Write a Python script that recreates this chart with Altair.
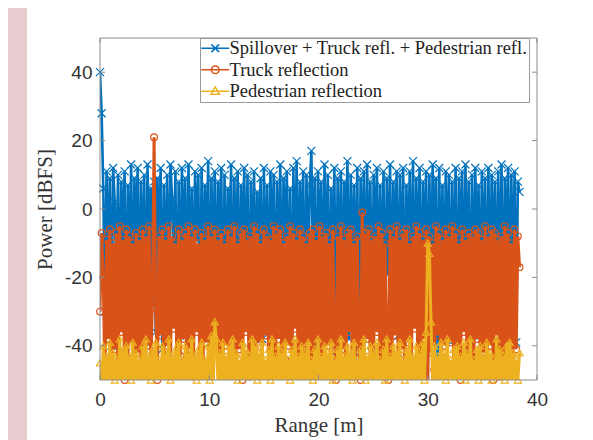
import altair as alt
import pandas as pd

# ---------------- data ----------------
x_step = 0.15  # sampling grid of the range axis [m]
series_names = [
    "Spillover + Truck refl. + Pedestrian refl.",
    "Truck reflection",
    "Pedestrian reflection",
]
colors = ["#0072BD", "#D95319", "#EDB120"]

spill = [40, 28, 6, -30, 11, -18, 9, -40, 12, 2, -25, 10, -35, 8, -12, 11, -42, 7, -20, 13,
         -33, 9, -8, 12, -38, 8, -22, 10, -45, 13, -15, 6, -28, 8, -36, 9, -10, 12, -41, 7,
         -24, 10, -31, 13, 3, -19, 11, -44, 8, -27, 12, -14, 9, -37, 13, -21, 6, -32, 11, -9,
         10, -43, 12, -26, 7, -17, 14, -39, 9, -23, 11, -34, 8, -11, 12, -46, 10, -29, 6, -16,
         13, -40, 9, -22, 11, -35, 7, -13, 12, -30, 10, -44, 8, -19, 11, -27, 5, -12, 9, -38,
         12, -25, 7, -33, 11, -15, 10, -42, 8, -20, 13, -36, 9, -10, 11, -31, 6, -45, 12, -23,
         14, -28, 8, -14, 11, -39, 10, -18, 7, 17, -26, 9, -41, 11, -12, 8, -30, 13, -21, 10,
         -37, 6, -16, 12, -43, 9, -24, 11, -32, 8, -11, 14, -38, 10, -20, 7, -29, 12, -45, 9,
         -17, 11, -35, 13, -22, 8, -40, 10, -13, 12, -31, 7, -26, 11, -42, 9, -19, 13, -34, 8,
         -15, 11, -37, 10, -24, 12, -44, 7, -18, 11, -29, 14, -33, 9, -21, 12, -40, 8, -14, 11,
         -36, 10, -27, 13, -11, 9, -43, 12, -23, 7, -30, 11, -17, 10, -39, 8, -25, 12, -46, 9,
         -13, 11, -34, 13, -20, 8, -41, 10, -28, 12, -15, 7, -37, 11, -22, 9, -44, 12, -31, 10,
         -18, 8, -35, 11, -26, 13, -42, 9, -12, 12, -33, 10, -21, 11, -39, 8, 5]

truck = [-30, -7, -20, -52, -9, -38, -6, -48, -10, -41, -7, -55, -5, -36, -9, -50, -6, -44, -8, -39,
         -10, -53, -7, -42, -9, -46, -6, -51, -8, -40, -5, -47, -27, 21, -29, -50, -8, -37, -6, -54,
         -9, -40, -5, -47, -8, -35, -10, -51, -6, -43, -9, -38, -7, -56, -5, -41, -8, -49, -6, -36,
         -10, -52, -7, -45, -9, -39, -5, -53, -8, -42, -6, -37, -9, -55, -7, -44, -10, -40, -6, -54,
         -8, -38, -5, -47, -10, -41, -7, -50, -6, -36, -9, -49, -8, -43, -5, -52, -7, -39, -10, -46,
         -6, -37, -8, -53, -9, -42, -5, -48, -7, -38, -6, -51, -10, -44, -8, -40, -5, -55, -7, -35,
         -9, -54, -6, -41, -8, -47, -10, -39, -7, -52, -6, -45, -9, -38, -5, -56, -8, -43, -7, -40,
         -10, -53, -6, -37, -50, -8, -48, -5, -41, -9, -55, -7, -36, -6, -49, -10, -44, -8, -39, -50,
         -1, -45, -7, -38, -6, -52, -9, -42, -8, -36, -5, -55, -7, -43, -10, -40, -50, -6, -53, -8,
         -37, -5, -48, -9, -41, -7, -56, -6, -39, -10, -46, -8, -35, -5, -51, -7, -44, -9, -38, -6,
         -54, -8, -42, -10, -47, -5, -37, -7, -52, -9, -40, -6, -45, -8, -39, -5, -55, -7, -43, -10,
         -50, -6, -36, -9, -48, -7, -41, -8, -53, -6, -38, -7, -46, -9, -42, -5, -54, -8, -40, -6,
         -50, -7, -37, -9, -49, -8, -43, -5, -52, -7, -39, -10, -45, -6, -41, -8, -17]

ped = [-45, -52, -40, -55, -43, -51, -39, -58, -42, -50, -44, -53, -38, -56, -41, -52, -40, -54, -43, -50,
       -39, -57, -42, -51, -44, -55, -40, -52, -38, -58, -43, -50, -41, -54, -39, -51, -44, -56, -40, -52,
       -42, -55, -38, -50, -43, -57, -41, -53, -39, -51, -44, -54, -40, -56, -42, -52, -38, -55, -43, -50,
       -41, -57, -39, -52, -44, -53, -40, -50, -37, -55, -33, -38, -51, -42, -56, -39, -52, -43, -51, -40,
       -57, -38, -53, -42, -50, -44, -55, -39, -52, -41, -58, -43, -51, -38, -54, -40, -50, -42, -56, -39,
       -52, -44, -53, -41, -50, -38, -57, -43, -51, -40, -55, -42, -52, -39, -54, -44, -50, -41, -56, -38,
       -53, -43, -51, -40, -57, -42, -52, -39, -55, -44, -50, -41, -54, -38, -52, -43, -56, -40, -51, -42,
       -53, -39, -50, -44, -58, -41, -52, -38, -55, -43, -51, -40, -54, -42, -50, -39, -56, -44, -52, -41,
       -53, -38, -50, -43, -57, -40, -52, -42, -55, -39, -51, -44, -54, -41, -50, -38, -56, -43, -52, -40,
       -55, -42, -51, -39, -54, -44, -50, -41, -57, -38, -52, -43, -55, -40, -51, -42, -53, -39, -50, -36,
       -10, -13, -33, -52, -40, -55, -43, -51, -39, -54, -42, -50, -38, -56, -44, -52, -41, -53, -40, -51,
       -43, -57, -39, -50, -42, -55, -38, -52, -44, -54, -41, -50, -40, -56, -43, -51, -39, -53, -42, -50,
       -44, -55, -38, -52, -41, -54, -43, -50, -40, -57, -39, -51, -42, -53, -44, -50, -42]

x_ticks = [0, 10, 20, 30, 40]
y_ticks = [-40, -20, 0, 20, 40]

# ---------------- table ----------------
rows = []
for name, vals in zip(series_names, [spill, truck, ped]):
    for i, v in enumerate(vals):
        rows.append({"series": name, "r": round(i * x_step, 3), "power": v})
df = pd.DataFrame(rows)

PINK = "#e8cdd0"
FRAME = "#8c8c8c"
TXT = "#333333"
W, H = 437, 342

xs = alt.Scale(domain=[0, 40], nice=False, zero=False)
ys = alt.Scale(domain=[-50, 50], nice=False, zero=False)
common_axis = dict(grid=False, domain=False, ticks=False, tickSize=0, labelFlush=False, labelOverlap=False,
                   labelExpr="'' + datum.value", labelFont="Liberation Sans", labelFontSize=19,
                   labelColor=TXT, titleFont="Liberation Serif", titleFontSize=21,
                   titleFontWeight="normal", titleColor=TXT, zindex=1)
xaxis = alt.Axis(values=x_ticks, title="Range [m]", labelPadding=10, titlePadding=5, **common_axis)
yaxis = alt.Axis(values=y_ticks, title="Power [dBFS]", labelPadding=8, titlePadding=9, **common_axis)

X = alt.X("r:Q", scale=xs, axis=xaxis)
Y = alt.Y("power:Q", scale=ys, axis=yaxis)

one = pd.DataFrame({"a": [0]})
panel = alt.Chart(one).mark_rect(color="white").encode(
    x=alt.value(-73), x2=alt.value(W + 48), y=alt.value(-30), y2=alt.value(H + 60)
)

marker_shapes = ["M-1,-1L1,1M-1,1L1,-1", "circle", "triangle-up"]
marker_sizes = [64, 45, 50]
line_widths = [2.6, 3.0, 3.0]

layers = [panel]
for name, col, shp, sz, lw in zip(series_names, colors, marker_shapes, marker_sizes, line_widths):
    base = alt.Chart(df).transform_filter(alt.datum.series == name)
    layers.append(base.mark_line(color=col, strokeWidth=lw, clip=True).encode(x=X, y=Y))
    layers.append(
        base.transform_filter((alt.datum.power >= -50) & (alt.datum.power <= 50))
        .mark_point(shape=shp, filled=False, color=col, size=sz, strokeWidth=1.2, opacity=1)
        .encode(x=X, y=Y)
    )

# inward ticks on all four sides
tx = pd.DataFrame({"r": x_ticks})
ty = pd.DataFrame({"power": y_ticks})
tick_style = dict(color=FRAME, strokeWidth=1)
layers.append(alt.Chart(tx).mark_rule(**tick_style).encode(x=X, y=alt.value(H), y2=alt.value(H - 5)))
layers.append(alt.Chart(tx).mark_rule(**tick_style).encode(x=X, y=alt.value(0), y2=alt.value(5)))
layers.append(alt.Chart(ty).mark_rule(**tick_style).encode(y=Y, x=alt.value(0), x2=alt.value(5)))
layers.append(alt.Chart(ty).mark_rule(**tick_style).encode(y=Y, x=alt.value(W - 5), x2=alt.value(W)))

# plot box
layers.append(alt.Chart(one).mark_rect(filled=False, stroke=FRAME, strokeWidth=1).encode(
    x=alt.value(0), x2=alt.value(W), y=alt.value(0), y2=alt.value(H)))

# legend (line + marker symbols)
legend_paths = [
    "M-2,0L2,0M-0.55,-0.55L0.55,0.55M-0.55,0.55L0.55,-0.55",
    "M-2,0L2,0M0.55,0A0.55,0.55,0,1,1,-0.55,0A0.55,0.55,0,1,1,0.55,0",
    "M-2,0L2,0M0,-0.62L0.6,0.42L-0.6,0.42Z",
]
leg_df = pd.DataFrame({"lg": series_names})
legend = alt.Legend(
    orient="none", legendX=100, legendY=0, title=None,
    fillColor="white", strokeColor="#999999", padding=1,
    labelFont="Liberation Serif", labelFontSize=18.5, labelColor="#222222", labelLimit=600,
    symbolSize=196, symbolStrokeWidth=1.5, symbolOpacity=1, symbolFillColor="transparent",
    symbolOffset=5, labelOffset=5, rowPadding=2.5,
)
leg_layer = alt.Chart(leg_df).mark_point(filled=False, opacity=0, size=1).encode(
    x=alt.value(10), y=alt.value(10),
    color=alt.Color("lg:N", scale=alt.Scale(domain=series_names, range=colors), legend=legend, sort=None),
    shape=alt.Shape("lg:N", scale=alt.Scale(domain=series_names, range=legend_paths), legend=legend, sort=None),
)
layers.append(leg_layer)

chart = alt.layer(*layers).properties(
    width=W, height=H,
    autosize=alt.AutoSizeParams(type="none"),
    padding={"left": 92, "top": 30, "right": 48, "bottom": 60},
).configure(background=PINK).configure_view(stroke=None).configure_legend(
    labelFont="Liberation Serif", labelFontSize=18.5
)

chart.save("out.html", embed_options={"renderer": "svg", "actions": False})
